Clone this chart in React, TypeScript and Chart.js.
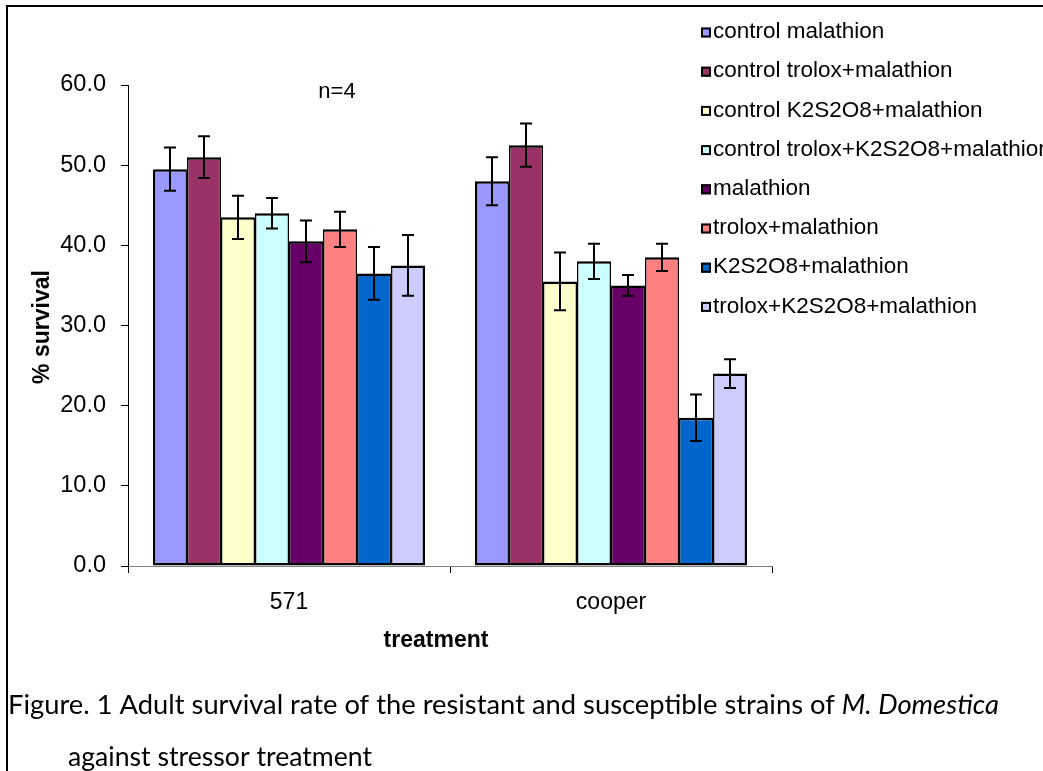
import React, { useEffect, useRef } from "react";
import { Chart, registerables } from "chart.js";

Chart.register(...registerables);

const categories = ["571", "cooper"];
const seriesLabels = [
  "control malathion",
  "control trolox+malathion",
  "control K2S2O8+malathion",
  "control trolox+K2S2O8+malathion",
  "malathion",
  "trolox+malathion",
  "K2S2O8+malathion",
  "trolox+K2S2O8+malathion",
];
const seriesColors = ["#9999FF", "#993366", "#FFFFCC", "#CCFFFF", "#660066", "#FF8080", "#0066CC", "#CCCCFF"];
const survival571 = [49.5, 51.0, 43.5, 44.0, 40.5, 42.0, 36.5, 37.5];
const survivalCooper = [48.0, 52.5, 35.5, 38.0, 35.0, 38.5, 18.5, 24.0];
const error571 = [2.7, 2.6, 2.7, 1.9, 2.6, 2.2, 3.3, 3.8];
const errorCooper = [3.0, 2.7, 3.6, 2.2, 1.3, 1.7, 2.9, 1.8];
const yAxisMin = 0;
const yAxisMax = 60;
const yAxisStep = 10;

const yTitle = "% survival";
const xTitle = "treatment";
const noteText = "n=4";
const captionPart1 = "Figure. 1 Adult survival rate of the resistant and susceptible strains of ";
const captionItalic = "M. Domestica";
const captionLine2 = "against stressor treatment";

const SANS = '"Liberation Sans", Arial, sans-serif';

const decorPlugin = {
  id: "decor",
  afterDatasetsDraw(chart: any) {
    const ctx = chart.ctx;
    const yScale = chart.scales.y;
    ctx.save();
    ctx.strokeStyle = "#000";
    ctx.lineWidth = 2;
    chart.data.datasets.forEach((ds: any, i: number) => {
      const meta = chart.getDatasetMeta(i);
      meta.data.forEach((el: any, j: number) => {
        const v = ds.data[j];
        const e = ds.errors[j];
        const x = Math.round(el.x);
        const yt = yScale.getPixelForValue(v + e);
        const yb = yScale.getPixelForValue(v - e);
        ctx.beginPath();
        ctx.moveTo(x, yt);
        ctx.lineTo(x, yb);
        ctx.moveTo(x - 6, yt);
        ctx.lineTo(x + 6, yt);
        ctx.moveTo(x - 6, yb);
        ctx.lineTo(x + 6, yb);
        ctx.stroke();
      });
    });
    ctx.restore();
  },
  afterDraw(chart: any) {
    const ctx = chart.ctx;
    ctx.save();
    // frame
    ctx.strokeStyle = "#000";
    ctx.lineWidth = 2;
    ctx.beginPath();
    ctx.moveTo(7, 771);
    ctx.lineTo(7, 6);
    ctx.lineTo(1043, 6);
    ctx.stroke();

    ctx.fillStyle = "#000";
    // note
    ctx.font = `22px ${SANS}`;
    ctx.textAlign = "center";
    ctx.textBaseline = "middle";
    ctx.fillText(noteText, 337, 92);

    // axis titles
    ctx.font = `bold 23px ${SANS}`;
    ctx.fillText(xTitle, 436, 641);
    ctx.save();
    ctx.translate(43, 327);
    ctx.rotate(-Math.PI / 2);
    ctx.fillText(yTitle, 0, 0);
    ctx.restore();

    // legend
    ctx.textAlign = "left";
    ctx.font = `22.5px ${SANS}`;
    chart.data.datasets.forEach((ds: any, i: number) => {
      const yc = 32 + i * 39.2;
      ctx.fillStyle = ds.backgroundColor;
      ctx.fillRect(701, yc - 4.5, 10, 10);
      ctx.strokeStyle = "#000";
      ctx.lineWidth = 2;
      ctx.strokeRect(702, yc - 3.5, 8, 8);
      ctx.fillStyle = "#000";
      ctx.fillText(ds.label, 713, yc);
    });

    // caption
    ctx.textBaseline = "alphabetic";
    const normalFont = "27.5px Lato, 'Open Sans', sans-serif";
    const italicFont = "italic 27.5px Lato, 'Open Sans', sans-serif";
    ctx.font = normalFont;
    const w1 = ctx.measureText(captionPart1).width;
    ctx.font = italicFont;
    const w2 = ctx.measureText(captionItalic).width;
    const sx = 991 / (w1 + w2);
    ctx.save();
    ctx.translate(8, 714);
    ctx.scale(sx, 1);
    ctx.font = normalFont;
    ctx.fillText(captionPart1, 0, 0);
    ctx.font = italicFont;
    ctx.fillText(captionItalic, w1, 0);
    ctx.restore();
    ctx.font = normalFont;
    const w3 = ctx.measureText(captionLine2).width;
    ctx.save();
    ctx.translate(68, 766);
    ctx.scale(304 / w3, 1);
    ctx.fillText(captionLine2, 0, 0);
    ctx.restore();
    ctx.restore();
  },
};

export default function App() {
  const ref = useRef<HTMLCanvasElement>(null);
  useEffect(() => {
    if (!ref.current) return;
    const n = seriesLabels.length;
    const datasets = seriesLabels.map((label, i) => ({
      label,
      data: [survival571[i], survivalCooper[i]],
      errors: [error571[i], errorCooper[i]],
      backgroundColor: seriesColors[i],
      borderColor: "#000",
      borderWidth: { top: 2.5, bottom: 2.5, left: i === 0 ? 2.5 : 1.5, right: i === n - 1 ? 2.5 : 1.5 },
      borderSkipped: false,
      inflateAmount: 0,
      categoryPercentage: 0.845,
      barPercentage: 1,
    }));
    const chart = new Chart(ref.current, {
      type: "bar",
      data: { labels: categories, datasets: datasets as any },
      options: {
        animation: false,
        responsive: false,
        devicePixelRatio: 1,
        layout: { padding: { left: 0, top: 85, right: 271, bottom: 145 } },
        plugins: { legend: { display: false }, tooltip: { enabled: false } },
        scales: {
          x: {
            type: "category",
            offset: true,
            grid: { offset: true, drawOnChartArea: false, drawTicks: true, tickLength: 7, color: "#000", lineWidth: 1 },
            border: { color: "#808080", width: 1 },
            ticks: { font: { family: SANS, size: 23 }, color: "#000", padding: 16, maxRotation: 0 },
            afterFit: (s: any) => {
              s.height = 60;
            },
          },
          y: {
            min: yAxisMin,
            max: yAxisMax,
            ticks: {
              stepSize: yAxisStep,
              callback: (v: any) => Number(v).toFixed(1),
              font: { family: SANS, size: 23.5 },
              color: "#000",
              padding: 15,
            },
            grid: { drawOnChartArea: false, drawTicks: true, tickLength: 7, color: "#000", lineWidth: 1 },
            border: { color: "#000", width: 1 },
            afterFit: (s: any) => {
              s.width = 128;
            },
          },
        },
      } as any,
      plugins: [decorPlugin],
    });
    return () => chart.destroy();
  }, []);
  return (
    <div style={{ position: "absolute", left: 0, top: 0, width: 1043, height: 771, background: "#fff", overflow: "hidden" }}>
      <canvas ref={ref} width={1043} height={771} style={{ width: 1043, height: 771, display: "block" }} />
    </div>
  );
}
